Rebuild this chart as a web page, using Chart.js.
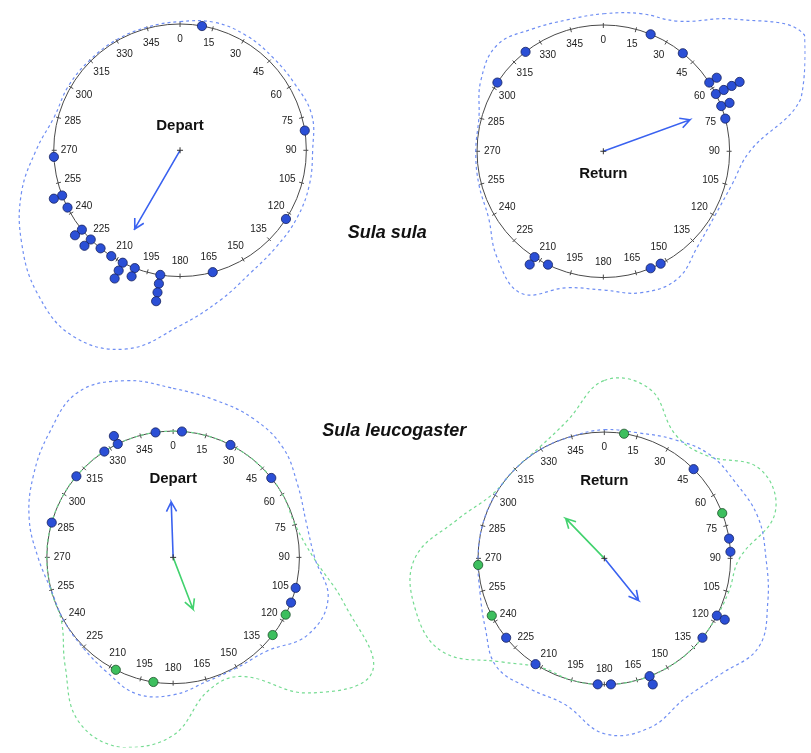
<!DOCTYPE html>
<html>
<head>
<meta charset="utf-8">
<title>Sula headings</title>
<script src="https://cdn.jsdelivr.net/npm/chart.js@4.4.1/dist/chart.umd.min.js"></script>
<style>
  body { margin: 0; background: #fff; }
  canvas { display: block; }
</style>
</head>
<body>
<canvas id="myChart" width="811" height="753"></canvas>
<script>
// compass degrees, 0 = north, clockwise
const tickLabels = ["0", "15", "30", "45", "60", "75", "90", "105", "120", "135", "150", "165",
  "180", "195", "210", "225", "240", "255", "270", "285", "300", "315", "330", "345"];
const densityAngles = [0, 15, 30, 45, 60, 75, 90, 105, 120, 135, 150, 165,
  180, 195, 210, 225, 240, 255, 270, 285, 300, 315, 330, 345];

// Sula sula - depart
const ssDepart = [10, 81, 123, 165, 189, 189, 189, 189, 201, 201, 207, 207, 207, 213, 219,
  225, 225, 231, 231, 243, 249, 249, 267];
const ssDepartDensity = [1.02, 1.05, 1.05, 1.04, 1.05, 1.08, 1.05, 1.06, 1.07, 1.08, 1.12, 1.23,
  1.39, 1.63, 1.70, 1.60, 1.45, 1.30, 1.14, 1.03, 1.02, 1.01, 1.01, 1.01];
const ssDepartMean = [210, 0.72];

// Sula sula - return
const ssReturn = [22, 39, 57, 57, 63, 63, 63, 63, 69, 69, 75, 153, 158, 206, 213, 213, 303, 322];
const ssReturnDensity = [1.09, 1.13, 1.19, 1.48, 1.84, 1.62, 1.16, 1.05, 1.02, 1.06, 1.17, 1.16,
  1.10, 1.12, 1.30, 1.19, 1.05, 1.02, 1.01, 1.02, 1.12, 1.19, 1.12, 1.08];
const ssReturnMean = [70, 0.73];

// Sula leucogaster - depart (blue / green)
const slDepartBlue = [4, 27, 51, 104, 111, 286, 310, 327, 334, 334, 352];
const slDepartGreen = [117, 128, 189, 207];
const slDepartBlueDensity = [1.34, 1.29, 1.27, 1.23, 1.14, 1.09, 1.12, 1.27, 1.23, 1.05, 1.01, 1.02,
  1.09, 1.12, 1.05, 1.01, 1.00, 1.00, 1.07, 1.18, 1.28, 1.39, 1.51, 1.45];
const slDepartGreenDensity = [1.00, 1.00, 1.00, 1.00, 1.00, 1.00, 1.11, 1.40, 1.82, 1.52, 1.09, 1.09,
  1.41, 1.56, 1.50, 1.21, 1.02, 1.00, 1.00, 1.00, 1.00, 1.00, 1.00, 1.00];
const slDepartBlueMean = [358, 0.44];
const slDepartGreenMean = [159, 0.44];

// Sula leucogaster - return (blue / green)
const slReturnBlue = [45, 81, 87, 117, 117, 129, 159, 159, 177, 183, 213, 231];
const slReturnGreen = [9, 69, 243, 267];
const slReturnBlueDensity = [1.02, 1.03, 1.09, 1.17, 1.20, 1.26, 1.28, 1.34, 1.41, 1.30, 1.28, 1.39,
  1.39, 1.20, 1.19, 1.21, 1.09, 1.02, 1.00, 1.00, 1.00, 1.00, 1.00, 1.00];
const slReturnGreenDensity = [1.41, 1.39, 1.13, 1.15, 1.42, 1.40, 1.07, 1.02, 1.00, 1.00, 1.00, 1.00,
  1.00, 1.00, 1.00, 1.16, 1.48, 1.55, 1.50, 1.20, 1.02, 1.00, 1.02, 1.13];
const slReturnBlueMean = [141, 0.43];
const slReturnGreenMean = [316, 0.44];

// layout (page units)
const R = 128;
const panels = [
  { cx: 177, cy: 147, label: "Depart", ly: -24 },
  { cx: 606, cy: 148, label: "Return", ly: 23 },
  { cx: 170, cy: 560, label: "Depart", ly: -79 },
  { cx: 607, cy: 561, label: "Return", ly: -77 },
];
const blueDot = "#2b4fd6", greenDot = "#3dbf5e";
const blueLine = "#3a62f0", greenLine = "#42d26e";
const blueDash = "#6f8ef3", greenDash = "#74db91";

function toXY(p, angle, radius) {
  const a = angle * Math.PI / 180;
  return { x: p.cx + Math.sin(a) * radius, y: p.cy - Math.cos(a) * radius };
}

function dotPoints(p, angles) {
  const seen = {};
  return angles.map(function (a) {
    const k = seen[a] || 0;
    seen[a] = k + 1;
    return toXY(p, a, R + k * 9);
  });
}

function dotSet(p, angles, color, border) {
  return {
    data: dotPoints(p, angles),
    backgroundColor: color,
    borderColor: border,
    borderWidth: 0.8,
    pointRadius: 4.6,
    order: 1,
  };
}

// closed curve: wrap one point on each side, hide the two extra segments
function curveSet(p, radii, color) {
  const pts = densityAngles.map((a, i) => toXY(p, a, radii[i] * R));
  const n = pts.length;
  return {
    data: [pts[n - 1]].concat(pts, [pts[0], pts[1]]),
    showLine: true,
    tension: 0.4,
    borderColor: color,
    borderWidth: 1.2,
    borderDash: [3, 3],
    pointRadius: 0,
    segment: {
      borderColor: (c) => (c.p0DataIndex === 0 || c.p0DataIndex === n + 1 ? "transparent" : color),
    },
    order: 4,
  };
}

function arrowSet(p, mean, color) {
  const tip = toXY(p, mean[0], mean[1] * R);
  const t = { cx: tip.x, cy: tip.y };
  return {
    data: [
      { x: p.cx, y: p.cy },
      tip,
      toXY(t, mean[0] + 180 - 28, 11),
      tip,
      toXY(t, mean[0] + 180 + 28, 11),
    ],
    showLine: true,
    tension: 0,
    borderColor: color,
    borderWidth: 1.6,
    pointRadius: 0,
    order: 3,
  };
}

const compassPlugin = {
  id: "compass",
  beforeDatasetsDraw(chart) {
    const ctx = chart.ctx;
    const x = chart.scales.x, y = chart.scales.y;
    panels.forEach(function (p) {
      const cx = x.getPixelForValue(p.cx), cy = y.getPixelForValue(p.cy);
      const r = x.getPixelForValue(p.cx + R) - cx;
      ctx.save();
      ctx.strokeStyle = "#4a4a4a";
      ctx.lineWidth = 1;
      ctx.beginPath();
      ctx.arc(cx, cy, r, 0, Math.PI * 2);
      tickLabels.forEach(function (lab) {
        const a = Number(lab) * Math.PI / 180;
        ctx.moveTo(cx + Math.sin(a) * (r - 3), cy - Math.cos(a) * (r - 3));
        ctx.lineTo(cx + Math.sin(a) * (r + 2), cy - Math.cos(a) * (r + 2));
      });
      ctx.stroke();
      ctx.fillStyle = "#222";
      ctx.font = '10px "Liberation Sans", Arial, sans-serif';
      ctx.textAlign = "center";
      ctx.textBaseline = "middle";
      tickLabels.forEach(function (lab) {
        const a = Number(lab) * Math.PI / 180;
        ctx.fillText(lab, cx + Math.sin(a) * 111, cy - Math.cos(a) * 111);
      });
      ctx.fillStyle = "#111";
      ctx.font = 'bold 15px "Liberation Sans", Arial, sans-serif';
      ctx.fillText(p.label, cx, cy + p.ly);
      ctx.restore();
    });
    ctx.save();
    ctx.fillStyle = "#111";
    ctx.font = 'italic bold 18px "Liberation Sans", Arial, sans-serif';
    ctx.textAlign = "center";
    ctx.textBaseline = "middle";
    ctx.fillText("Sula sula", x.getPixelForValue(387), y.getPixelForValue(231));
    ctx.fillText("Sula leucogaster", x.getPixelForValue(394), y.getPixelForValue(432));
    ctx.restore();
  },
};

const ctx = document.getElementById("myChart");
new Chart(ctx, {
  type: "scatter",
  data: {
    datasets: [
      dotSet(panels[0], ssDepart, blueDot, "#16225e"),
      dotSet(panels[1], ssReturn, blueDot, "#16225e"),
      dotSet(panels[2], slDepartBlue, blueDot, "#16225e"),
      dotSet(panels[2], slDepartGreen, greenDot, "#1c5028"),
      dotSet(panels[3], slReturnBlue, blueDot, "#16225e"),
      dotSet(panels[3], slReturnGreen, greenDot, "#1c5028"),
      {
        data: panels.map((p) => ({ x: p.cx, y: p.cy })),
        pointStyle: "cross",
        pointRadius: 3,
        borderColor: "#333",
        borderWidth: 1,
        order: 2,
      },
      arrowSet(panels[0], ssDepartMean, blueLine),
      arrowSet(panels[1], ssReturnMean, blueLine),
      arrowSet(panels[2], slDepartBlueMean, blueLine),
      arrowSet(panels[2], slDepartGreenMean, greenLine),
      arrowSet(panels[3], slReturnBlueMean, blueLine),
      arrowSet(panels[3], slReturnGreenMean, greenLine),
      curveSet(panels[0], ssDepartDensity, blueDash),
      curveSet(panels[1], ssReturnDensity, blueDash),
      curveSet(panels[2], slDepartBlueDensity, blueDash),
      curveSet(panels[2], slDepartGreenDensity, greenDash),
      curveSet(panels[3], slReturnBlueDensity, blueDash),
      curveSet(panels[3], slReturnGreenDensity, greenDash),
    ],
  },
  options: {
    responsive: false,
    animation: false,
    events: [],
    layout: { padding: 0 },
    plugins: {
      legend: { display: false },
      tooltip: { enabled: false },
    },
    scales: {
      x: { type: "linear", min: 0, max: 811, display: false },
      y: { type: "linear", min: 0, max: 753, reverse: true, display: false },
    },
  },
  plugins: [compassPlugin],
});
</script>
</body>
</html>
